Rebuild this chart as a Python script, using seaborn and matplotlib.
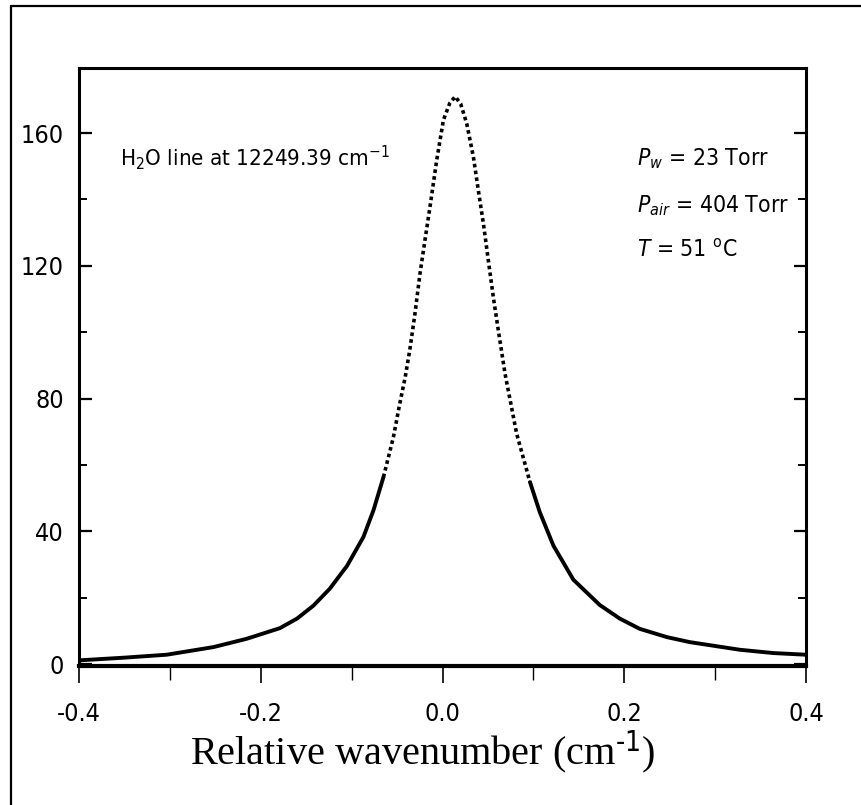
import matplotlib
matplotlib.use("Agg")
import matplotlib.pyplot as plt
import seaborn as sns
import pandas as pd
from matplotlib.lines import Line2D
from matplotlib.ticker import MultipleLocator
from matplotlib import font_manager

# Data
wavenumber = [-0.400, -0.351, -0.3035, -0.252, -0.2155, -0.179, -0.160, -0.142, -0.124,
              -0.105, -0.087, -0.076, -0.065, -0.054, -0.047, -0.041, -0.0358, -0.0303,
              -0.0248, -0.0193, -0.0138, -0.0064, 0.001, 0.008, 0.014, 0.020, 0.0266,
              0.034, 0.0394, 0.045, 0.0504, 0.0559, 0.0614, 0.0688, 0.0816, 0.0963,
              0.107, 0.122, 0.144, 0.173, 0.195, 0.217, 0.247, 0.272, 0.327, 0.364, 0.400]
absorbance = [1.1, 1.9, 2.8, 5.1, 7.6, 10.8, 13.7, 17.6, 22.7,
              29.6, 38.3, 46.3, 56.3, 68.4, 78.5, 86.5, 95.0, 105.6,
              117.6, 127.7, 137.7, 151.8, 163.9, 169.0, 171.0, 168.8, 162.9,
              152.8, 142.8, 132.7, 121.7, 110.6, 100.6, 87.5, 69.4, 54.8,
              45.8, 35.7, 25.4, 17.8, 13.7, 10.6, 8.1, 6.6, 4.3, 3.3, 2.8]
x_ticks = [-0.4, -0.2, 0.0, 0.2, 0.4]
x_tick_labels = ["-0.4", "-0.2", "0.0", "0.2", "0.4"]
y_ticks = [0, 40, 80, 120, 160]
y_tick_labels = ["0", "40", "80", "120", "160"]

sns.set_style("ticks")

# pick a narrow sans font if one is installed
names = {f.name for f in font_manager.fontManager.ttflist}
stretch = "normal"
if "Liberation Sans Narrow" in names:
    sans = "Liberation Sans Narrow"
elif any(f.name == "DejaVu Sans" and str(f.stretch) in ("condensed", "semi-condensed", "75", "87.5")
         for f in font_manager.fontManager.ttflist):
    sans = "DejaVu Sans"
    stretch = "condensed"
else:
    sans = "Liberation Sans"

plt.rcParams["font.family"] = [sans, "DejaVu Sans"]
plt.rcParams["font.stretch"] = stretch
plt.rcParams["mathtext.fontset"] = "custom"
plt.rcParams["mathtext.rm"] = sans
plt.rcParams["mathtext.it"] = sans + ":italic"
plt.rcParams["mathtext.default"] = "regular"
for k in ("text.color", "axes.labelcolor", "xtick.color", "ytick.color", "axes.edgecolor"):
    plt.rcParams[k] = "black"

tick_fs = 18 if sans != "Liberation Sans" else 17
ann_fs = 16.5 if sans != "Liberation Sans" else 15

fig = plt.figure(figsize=(8.61, 8.05), dpi=100)
ax = fig.add_axes([79 / 861, 1 - 666 / 805, (806 - 79) / 861, (666 - 68) / 805])

df = pd.DataFrame({"x": wavenumber, "y": absorbance})
peak_x = df.loc[df["y"].idxmax(), "x"]
steep = 58
left_low = df[(df["x"] <= peak_x) & (df["y"] <= steep)]
right_low = df[(df["x"] >= peak_x) & (df["y"] <= steep)]
top = df[df["y"] >= 54]

sns.lineplot(data=left_low, x="x", y="y", ax=ax, color="black", linewidth=2.8,
             sort=False, estimator=None)
sns.lineplot(data=right_low, x="x", y="y", ax=ax, color="black", linewidth=2.8,
             sort=False, estimator=None)
sns.lineplot(data=top, x="x", y="y", ax=ax, color="black", linewidth=2.6,
             linestyle=(0, (1.0, 0.9)), sort=False, estimator=None)

ax.set_xlim(-0.4, 0.4)
ax.set_ylim(-0.6, 179.6)
ax.set_xticks(x_ticks)
ax.set_xticklabels(x_tick_labels)
ax.set_yticks(y_ticks)
ax.set_yticklabels(y_tick_labels)
ax.xaxis.set_minor_locator(MultipleLocator(0.1))
ax.yaxis.set_minor_locator(MultipleLocator(20))

for s in ax.spines.values():
    s.set_linewidth(2.2)
    s.set_color("black")
ax.spines["bottom"].set_linewidth(3.0)

ax.tick_params(axis="y", which="major", direction="in", length=9, width=1.6,
               left=True, right=True, labelsize=tick_fs, pad=11)
ax.tick_params(axis="y", which="minor", direction="in", length=6, width=1.4,
               left=True, right=True)
ax.tick_params(axis="x", which="major", direction="out", length=12, width=1.2,
               bottom=True, top=False, labelsize=tick_fs, pad=14)
ax.tick_params(axis="x", which="minor", direction="out", length=10, width=1.0,
               bottom=True, top=False)

ax.set_xlabel("Relative wavenumber (cm$^{\\text{-1}}$)", family=["Liberation Serif", "DejaVu Serif"],
              fontsize=29)
ax.xaxis.set_label_coords(0.473, -0.104)
ax.set_ylabel("")

ax.text(-0.355, 150.3, "H$_2$O line at 12249.39 cm$^{-1}$", fontsize=ann_fs - 0.5,
        va="baseline", ha="left")
ax.text(0.2137, 150.3, "$\\it{P}_w$ = 23 Torr", fontsize=ann_fs, va="baseline", ha="left")
ax.text(0.2137, 136.2, "$\\it{P}_{air}$ = 404 Torr", fontsize=ann_fs, va="baseline", ha="left")
ax.text(0.2137, 122.7, "$\\it{T}$ = 51 $^o$C", fontsize=ann_fs, va="baseline", ha="left")

# outer frame (left and top visible)
fig.add_artist(Line2D([11 / 861, 11 / 861], [0, 1 - 6 / 805], transform=fig.transFigure,
                      color="black", linewidth=1.6))
fig.add_artist(Line2D([11 / 861, 1], [1 - 6 / 805, 1 - 6 / 805], transform=fig.transFigure,
                      color="black", linewidth=1.6))

fig.savefig("out.png", dpi=100)
